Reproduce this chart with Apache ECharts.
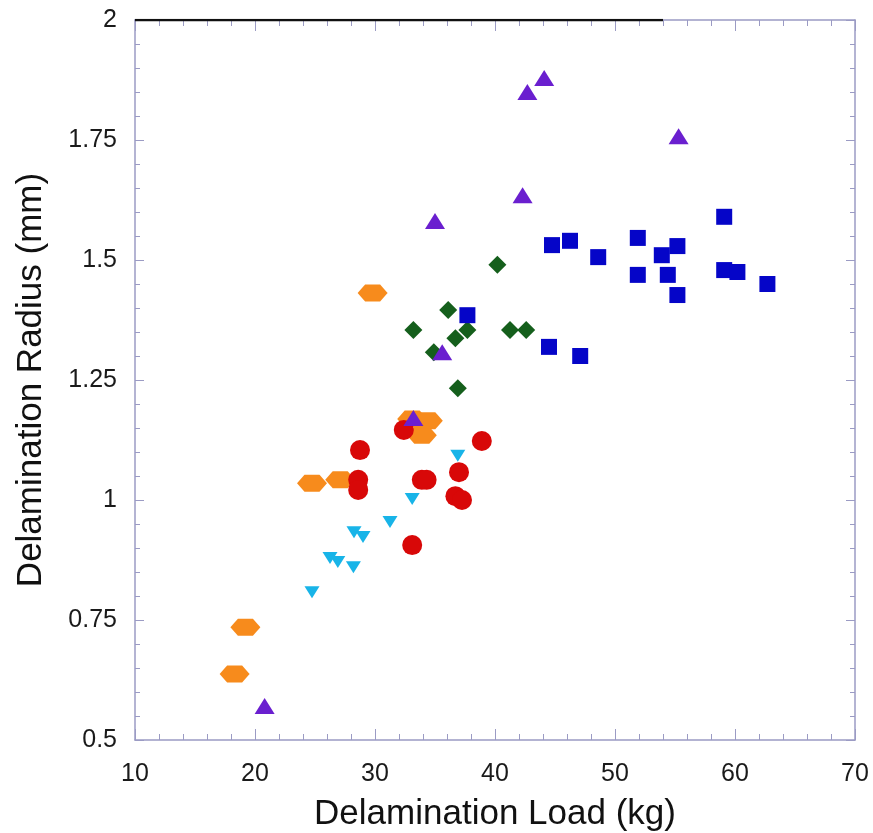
<!DOCTYPE html>
<html><head><meta charset="utf-8">
<script src="https://cdn.jsdelivr.net/npm/echarts@6/dist/echarts.min.js"></script>
<style>html,body{margin:0;padding:0;background:#fff}#c{width:873px;height:833px}</style>
</head><body><div id="c"></div>
<script>
var xTicks = [10, 20, 30, 40, 50, 60, 70];
var yTicks = [0.5, 0.75, 1, 1.25, 1.5, 1.75, 2];

var purpleTri = [[44.1,1.879],[42.7,1.85],[55.3,1.758],[42.3,1.635],[35.0,1.581],[35.6,1.308],[33.2,1.171],[20.8,0.571]];
var blueSq = [[44.75,1.531],[46.25,1.54],[48.6,1.506],[51.9,1.546],[51.9,1.469],[53.9,1.51],[55.2,1.529],[54.4,1.469],[55.2,1.427],[59.1,1.59],[59.1,1.479],[60.2,1.475],[62.7,1.45],[37.7,1.385],[44.5,1.319],[47.1,1.30]];
var greenDia = [[40.2,1.49],[36.1,1.396],[33.2,1.354],[37.7,1.354],[36.7,1.337],[34.9,1.308],[41.25,1.354],[42.6,1.354],[36.9,1.233]];
var orangeHex = [[29.8,1.431],[33.1,1.169],[34.4,1.165],[33.9,1.135],[24.75,1.035],[27.1,1.042],[19.2,0.735],[18.3,0.6375]];
var redCirc = [[28.75,1.104],[28.6,1.042],[28.6,1.021],[32.4,1.146],[38.9,1.123],[33.9,1.042],[34.3,1.042],[37.0,1.058],[36.7,1.008],[37.25,1.0],[33.1,0.906]];
var cyanTri = [[36.9,1.092],[33.1,1.002],[31.25,0.954],[28.25,0.933],[29.0,0.923],[26.25,0.879],[26.9,0.871],[28.2,0.86],[24.75,0.808]];
var topLine = [[10,2],[54,2]];

var frame = '#9b9bc4';
var font = '"Liberation Sans", Arial, sans-serif';
var chart = echarts.init(document.getElementById('c'));
function mkX(pos, show){
  return {type:'value', position:pos, min:xTicks[0], max:xTicks[xTicks.length-1], interval:10,
    axisLine:{show:true, onZero:false, lineStyle:{color:frame, width:1.5}},
    axisTick:{show:true, inside:true, length:11, lineStyle:{color:frame}},
    minorTick:{show:true, splitNumber:5, length:6, lineStyle:{color:frame}},
    splitLine:{show:false},
    axisLabel:{show:show, color:'#1a1a1a', fontSize:25, fontFamily:font, margin:22},
    name: show ? 'Delamination Load (kg)' : '', nameLocation:'middle', nameGap:57,
    nameTextStyle:{color:'#111', fontSize:35, fontFamily:font}};
}
function mkY(pos, show){
  return {type:'value', position:pos, min:yTicks[0], max:yTicks[yTicks.length-1], interval:0.25,
    axisLine:{show:true, onZero:false, lineStyle:{color:frame, width:1.5}},
    axisTick:{show:true, inside:true, length:9, lineStyle:{color:frame}},
    minorTick:{show:true, splitNumber:5, length:5, lineStyle:{color:frame}},
    splitLine:{show:false},
    axisLabel:{show:show, color:'#1a1a1a', fontSize:25, fontFamily:font, margin:18,
      formatter:function(v){return String(v);}},
    name: show ? 'Delamination Radius (mm)' : '', nameLocation:'middle', nameGap:86,
    nameTextStyle:{color:'#111', fontSize:35, fontFamily:font}};
}
var hex = 'path://M0,5 L3,0 L9,0 L12,5 L9,10 L3,10 Z';
function st(c){ return {color:c, opacity:1}; }
chart.setOption({
  animation:false,
  grid:{left:135, right:18, top:20, bottom:93, containLabel:false, outerBoundsMode:'none'},
  xAxis:[mkX('bottom', true), mkX('top', false)],
  yAxis:[mkY('left', true), mkY('right', false)],
  series:[
    {type:'line', data:topLine, symbol:'none', lineStyle:{color:'#111', width:2.5}, z:5},
    {type:'scatter', data:orangeHex, symbol:hex, symbolSize:[30,17], itemStyle:st('#f78b1c')},
    {type:'scatter', data:cyanTri, symbol:'triangle', symbolRotate:180, symbolSize:[15,12], itemStyle:st('#18b4e8')},
    {type:'scatter', data:greenDia, symbol:'diamond', symbolSize:[18,18], itemStyle:st('#155f1c')},
    {type:'scatter', data:blueSq, symbol:'rect', symbolSize:16, itemStyle:st('#0505c8')},
    {type:'scatter', data:redCirc, symbol:'circle', symbolSize:20, itemStyle:st('#d80808')},
    {type:'scatter', data:purpleTri, symbol:'triangle', symbolSize:[20,16], itemStyle:st('#6a1fcf')}
  ]
});
</script></body></html>
